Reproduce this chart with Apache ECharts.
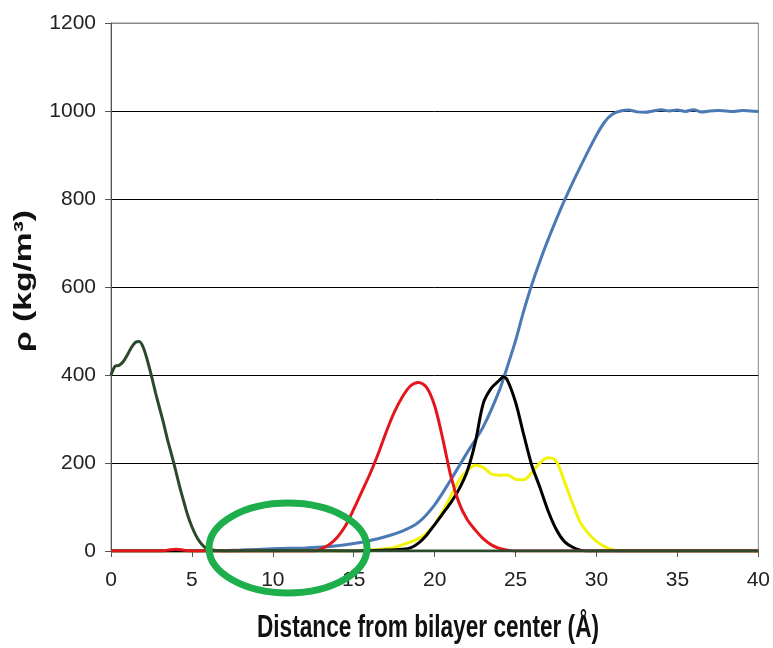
<!DOCTYPE html>
<html>
<head>
<meta charset="utf-8">
<script src="https://cdn.jsdelivr.net/npm/echarts@6/dist/echarts.min.js"></script>
<style>
  html, body { margin: 0; padding: 0; background: #fff; }
  #chart { width: 773px; height: 648px; }
</style>
</head>
<body>
<div id="chart"></div>
<script>
  // density profiles (x in Å, y in kg/m3)
  const greenX = [0, 0.25, 0.5, 0.75, 1, 1.25, 1.5, 1.75, 2, 2.25, 2.5, 2.75, 3, 3.25, 3.5, 3.75, 4, 4.25, 4.5, 4.75, 5, 5.25, 5.5, 5.75, 6, 6.5, 7, 10, 15, 20, 30, 40]
  const greenY = [400, 420, 422, 430, 445, 462, 474, 476, 462, 433, 398, 360, 325, 290, 252, 218, 182, 145, 112, 80, 55, 35, 20, 10, 4, 1, 0, 1, 0, 0, 0, 0]

  const redX = [0, 3, 3.5, 4, 4.5, 5, 12.5, 13, 13.5, 14, 14.5, 15, 15.5, 16, 16.5, 17, 17.5, 18, 18.5, 19, 19.5, 20, 20.5, 21, 21.5, 22, 22.5, 23, 23.5, 24, 24.5, 25, 40]
  const redY = [0, 0, 2, 4, 2, 0, 0, 5, 15, 32, 58, 95, 135, 175, 220, 270, 315, 350, 375, 383, 372, 330, 255, 170, 110, 72, 48, 28, 14, 6, 2, 0, 0]

  const blackX = [0, 15, 17, 18, 18.5, 19, 19.5, 20, 20.5, 21, 21.5, 22, 22.5, 23, 23.5, 24, 24.25, 24.5, 25, 25.5, 26, 26.5, 27, 27.5, 28, 28.5, 29, 29.5, 40]
  const blackY = [0, 0, 2, 4, 7, 18, 36, 60, 85, 110, 140, 180, 245, 335, 370, 388, 396, 388, 338, 265, 195, 145, 92, 50, 22, 9, 2, 0, 0]

  const yellowX = [0, 15, 16, 17, 17.5, 18, 18.5, 19, 19.5, 20, 20.5, 21, 21.5, 22, 22.5, 23, 23.5, 24, 24.5, 25, 25.5, 26, 26.5, 27, 27.5, 28, 28.5, 29, 29.5, 30, 30.5, 31, 31.5, 40]
  const yellowY = [0, 0, 2, 5, 8, 14, 20, 28, 40, 60, 90, 125, 160, 182, 195, 190, 175, 172, 173, 163, 162, 178, 200, 212, 205, 160, 110, 65, 40, 22, 10, 3, 0, 0]

  const blueX = [0, 6, 8, 10, 12, 13, 14, 15, 16, 17, 18, 19, 20, 21, 22, 23, 24, 24.5, 25, 25.5, 26, 26.5, 27, 27.5, 28, 28.5, 29, 29.5, 30, 30.5, 31, 31.5, 32, 32.5, 33, 33.5, 34, 34.5, 35, 35.5, 36, 36.5, 37, 37.5, 38, 38.5, 39, 39.5, 40]
  const blueY = [0, 0, 2, 5, 7, 9, 12, 17, 24, 33, 45, 65, 105, 162, 223, 282, 365, 420, 478, 545, 605, 658, 707, 752, 795, 835, 873, 910, 945, 975, 993, 1000, 1002, 998, 997, 1000, 1003, 1000, 1002, 999, 1003, 998, 1000, 1001, 1000, 999, 1001, 1000, 999]

  const xTicks = [0, 5, 10, 15, 20, 25, 30, 35, 40]
  const yTicks = [0, 200, 400, 600, 800, 1000, 1200]

  const xTitle = 'Distance from bilayer center (Å)'
  const yTitle = 'ρ (kg/m³)'

  const pairs = (xs, ys) => xs.map((x, i) => [x, ys[i]])

  const sans = "'Liberation Sans', Arial, sans-serif"

  function lineSeries(name, xs, ys, color) {
    return {
      name: name,
      type: 'line',
      data: pairs(xs, ys),
      smooth: 0.3,
      showSymbol: false,
      lineStyle: { color: color, width: 3 },
      itemStyle: { color: color }
    }
  }

  const myChart = echarts.init(document.getElementById('chart'))

  let option = {
    animation: false,
    backgroundColor: '#fff',
    grid: {
      left: 111,
      right: 11,
      top: 23,
      bottom: 97,
      show: true,
      borderColor: '#888',
      borderWidth: 1
    },
    xAxis: {
      type: 'value',
      min: xTicks[0],
      max: xTicks[xTicks.length - 1],
      interval: 5,
      axisLine: { show: true, lineStyle: { color: '#555', width: 1 } },
      axisTick: { show: true, inside: false, length: 6, lineStyle: { color: '#555' } },
      axisLabel: { fontFamily: sans, fontSize: 21, color: '#222', margin: 19, formatter: (v) => String(v) },
      splitLine: { show: false }
    },
    yAxis: {
      type: 'value',
      min: yTicks[0],
      max: yTicks[yTicks.length - 1],
      interval: 200,
      axisLine: { show: true, lineStyle: { color: '#555', width: 1 } },
      axisTick: { show: true, inside: false, length: 6, lineStyle: { color: '#555' } },
      axisLabel: { fontFamily: sans, fontSize: 21, color: '#222', margin: 15, formatter: (v) => String(v) },
      splitLine: { show: true, lineStyle: { color: ['#000', '#000', '#000', '#000', '#000', '#000', '#888'], width: 1 } }
    },
    series: [
      lineSeries('water', blueX, blueY, '#4a79b4'),
      lineSeries('yellow', yellowX, yellowY, '#f2f20a'),
      lineSeries('black', blackX, blackY, '#000000'),
      lineSeries('red', redX, redY, '#e3161c'),
      lineSeries('green', greenX, greenY, '#2b4a2c')
    ],
    graphic: [{
      // axis titles: condensed / stretched like the original
      type: 'text',
      x: 428,
      y: 628,
      scaleX: 0.73,
      style: { text: xTitle, fill: '#111', font: 'bold 31px ' + sans, align: 'center', verticalAlign: 'middle' }
    }, {
      type: 'text',
      x: 24,
      y: 281,
      rotation: Math.PI / 2,
      scaleX: 1.4,
      style: { text: yTitle, fill: '#111', font: 'bold 24px ' + sans, align: 'center', verticalAlign: 'middle' }
    }, {
      // green highlight ring
      type: 'ellipse',
      z: 100,
      shape: { cx: 288, cy: 548, rx: 79, ry: 45 },
      style: { fill: 'none', stroke: '#1daf4b', lineWidth: 7 }
    }]
  }

  myChart.setOption(option)
</script>
</body>
</html>
